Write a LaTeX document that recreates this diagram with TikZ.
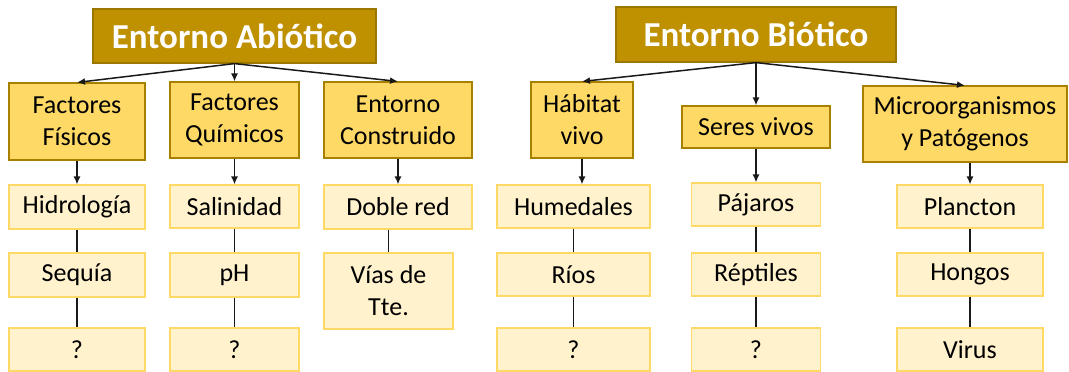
\documentclass[tikz,border=0pt]{standalone}
\usepackage{fontspec}
\setmainfont{Carlito}
\usetikzlibrary{arrows.meta}

\definecolor{headgold}{HTML}{BF9000}
\definecolor{headline}{HTML}{9C7700}
\definecolor{midgold}{HTML}{FFD966}
\definecolor{midline}{HTML}{A88000}
\definecolor{lightgold}{HTML}{FFF2CC}

\begin{document}
\begin{tikzpicture}[x=1pt,y=-1pt,
  headbox/.style={draw=headline, fill=headgold, line width=1.2pt, inner sep=0pt,
    text=white, font=\fontsize{35}{40}\selectfont\bfseries},
  midbox/.style={draw=midline, fill=midgold, line width=1.1pt, inner sep=0pt,
    align=center, font=\fontsize{26}{32}\selectfont},
  leafbox/.style={draw=midgold, fill=lightgold, line width=1.1pt, inner sep=0pt,
    align=center, font=\fontsize{26}{32}\selectfont},
  link/.style={line width=1.5pt, black!90},
  arrowlink/.style={link, -{Latex[length=8pt,width=7pt]}}]
\useasboundingbox (0,0) rectangle (1069,372);

%top row:
\node[headbox, minimum width=283pt, minimum height=54pt] (abio) at (234.5,36) {Entorno Abiótico};
\node[headbox, minimum width=280pt, minimum height=55pt] (bio) at (756,34.5) {Entorno Biótico};

%middle row:
\node[midbox, minimum width=136pt, minimum height=77pt] (fis) at (77,121.5) {Factores\\Físicos};
\node[midbox, minimum width=129pt, minimum height=76pt] (qui) at (234.5,120) {Factores\\Químicos};
\node[midbox, minimum width=148pt, minimum height=76pt] (con) at (398,120) {Entorno\\Construido};
\node[midbox, minimum width=102pt, minimum height=76pt] (hab) at (582,120) {Hábitat\\vivo};
\node[midbox, minimum width=148pt, minimum height=42pt] (ser) at (756,127) {Seres vivos};
\node[midbox, minimum width=204pt, minimum height=76pt] (mic) at (965,124) {Microorganismos\\y Patógenos};

%bottom rows:
\node[leafbox, minimum width=136pt, minimum height=44pt] (hid) at (77,207) {Hidrología};
\node[leafbox, minimum width=136pt, minimum height=44pt] (seq) at (77,275) {Sequía};
\node[leafbox, minimum width=136pt, minimum height=43pt] (fisq) at (77,349.5) {?};

\node[leafbox, minimum width=129pt, minimum height=43pt] (sal) at (234.5,206.5) {Salinidad};
\node[leafbox, minimum width=129pt, minimum height=44pt] (ph) at (234.5,275) {pH};
\node[leafbox, minimum width=129pt, minimum height=43pt] (quiq) at (234.5,349.5) {?};

\node[leafbox, minimum width=148pt, minimum height=44pt] (dob) at (398,207) {Doble red};
\node[leafbox, minimum width=129pt, minimum height=76pt] (vias) at (388.5,291) {Vías de\\Tte.};

\node[leafbox, minimum width=153pt, minimum height=43pt] (hum) at (573.5,206.5) {Humedales};
\node[leafbox, minimum width=153pt, minimum height=43pt] (rios) at (573.5,274.5) {Ríos};
\node[leafbox, minimum width=153pt, minimum height=43pt] (habq) at (573.5,349.5) {?};

\node[leafbox, minimum width=129pt, minimum height=43pt] (paj) at (756,204.5) {Pájaros};
\node[leafbox, minimum width=129pt, minimum height=43pt] (rep) at (756,274.5) {Réptiles};
\node[leafbox, minimum width=129pt, minimum height=43pt] (serq) at (756,349.5) {?};

\node[leafbox, minimum width=146pt, minimum height=43pt] (pla) at (970,206.5) {Plancton};
\node[leafbox, minimum width=146pt, minimum height=43pt] (hon) at (970,274.5) {Hongos};
\node[leafbox, minimum width=146pt, minimum height=43pt] (vir) at (970,349.5) {Virus};

%arrows
\foreach \kid in {fis,qui,con}
  \draw[arrowlink] (abio.south) -- (\kid.north);
\foreach \kid in {hab,ser,mic}
  \draw[arrowlink] (bio.south) -- (\kid.north);
\draw[arrowlink] (fis.south) -- (hid.north);
\draw[arrowlink] (qui.south) -- (sal.north);
\draw[arrowlink] (con.south) -- (dob.north);
\draw[arrowlink] (hab.south) -- (hab.south |- hum.north);
\draw[arrowlink] (ser.south) -- (paj.north);
\draw[arrowlink] (pla.north |- mic.south) -- (pla.north);

%lines
\draw[link] (hid) -- (seq) (seq) -- (fisq);
\draw[link] (sal) -- (ph) (ph) -- (quiq);
\draw[link] (vias.north |- dob.south) -- (vias.north);
\draw[link] (hum) -- (rios) (rios) -- (habq);
\draw[link] (paj) -- (rep) (rep) -- (serq);
\draw[link] (pla) -- (hon) (hon) -- (vir);
\end{tikzpicture}
\end{document}
